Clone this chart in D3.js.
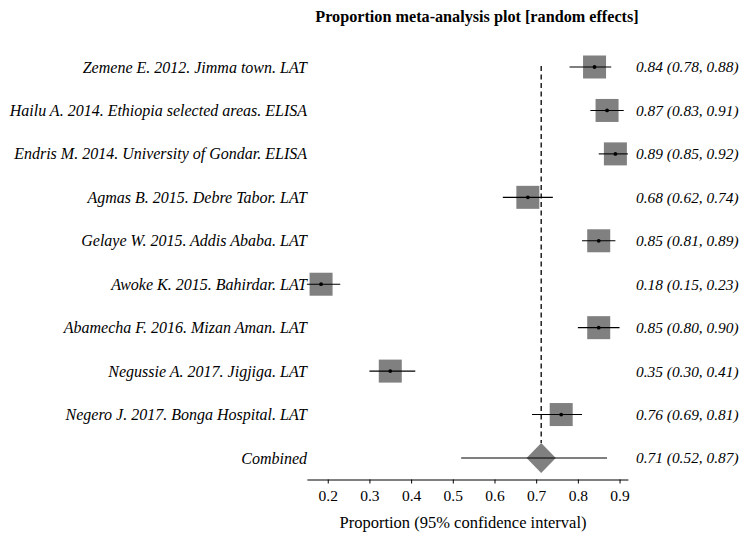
<!DOCTYPE html>
<html>
<head>
<meta charset="utf-8">
<script src="https://cdn.jsdelivr.net/npm/d3@7/dist/d3.min.js"></script>
<style>
  body { margin: 0; background: #fff; }
  svg { display: block; }
</style>
</head>
<body>
<svg id="chart" width="752" height="542"></svg>
<script>
// study rows
const studies = [
  "Zemene E. 2012. Jimma town. LAT",
  "Hailu A. 2014. Ethiopia selected areas. ELISA",
  "Endris M. 2014. University of Gondar. ELISA",
  "Agmas B. 2015. Debre Tabor. LAT",
  "Gelaye W. 2015. Addis Ababa. LAT",
  "Awoke K. 2015. Bahirdar. LAT",
  "Abamecha F. 2016. Mizan Aman. LAT",
  "Negussie A. 2017. Jigjiga. LAT",
  "Negero J. 2017. Bonga Hospital. LAT"
];
const estimates = [0.84, 0.87, 0.89, 0.68, 0.85, 0.184, 0.85, 0.35, 0.76];
const lower     = [0.78, 0.83, 0.85, 0.62, 0.81, 0.15, 0.80, 0.30, 0.69];
const upper     = [0.88, 0.91, 0.92, 0.74, 0.89, 0.23, 0.90, 0.41, 0.81];

// pooled estimate
const pooledLabel = "Combined";
const pooled = [0.712, 0.52, 0.87];

const ticks = [0.2, 0.3, 0.4, 0.5, 0.6, 0.7, 0.8, 0.9];

const FONT = "'Liberation Serif', 'Times New Roman', serif";
const svg = d3.select("#chart").style("font-family", FONT);
const fmt = d3.format(".2f");

const x = d3.scaleLinear().domain([0.15, 0.92]).range([306.9, 627.9]);
const rows = studies.concat([pooledLabel]);
const y = d3.scalePoint().domain(rows).range([67, 458]);

const boxSize = 23;
const grey = "#808080";

// title
svg.append("text")
  .attr("x", 477).attr("y", 22)
  .attr("text-anchor", "middle")
  .style("font-family", FONT)
  .style("font-weight", "bold")
  .style("font-size", "16.2px")
  .text("Proportion meta-analysis plot [random effects]");

// reference line at pooled estimate
svg.append("line")
  .attr("x1", x(pooled[0])).attr("x2", x(pooled[0]))
  .attr("y1", y(studies[0]) - 1).attr("y2", y(pooledLabel) - 15)
  .attr("stroke", "#000").attr("stroke-width", 1.3)
  .attr("stroke-dasharray", "5,3.5");

const g = svg.append("g");

studies.forEach((s, i) => {
  const cy = y(s);
  g.append("rect")
    .attr("x", x(estimates[i]) - boxSize / 2).attr("y", cy - boxSize / 2)
    .attr("width", boxSize).attr("height", boxSize)
    .attr("fill", grey);
  g.append("line")
    .attr("x1", x(lower[i])).attr("x2", x(upper[i]))
    .attr("y1", cy).attr("y2", cy)
    .attr("stroke", "#000").attr("stroke-width", 1.1);
  g.append("circle")
    .attr("cx", x(estimates[i])).attr("cy", cy).attr("r", 1.9)
    .attr("fill", "#000");
  g.append("text")
    .attr("x", 307).attr("y", cy).attr("dy", "0.35em")
    .attr("text-anchor", "end")
    .style("font-family", FONT)
    .style("font-style", "italic").style("font-size", "16px")
    .text(s);
  g.append("text")
    .attr("x", 636).attr("y", cy).attr("dy", "0.35em")
    .style("font-family", FONT)
    .style("font-style", "italic").style("font-size", "15.4px")
    .text(`${fmt(estimates[i])} (${fmt(lower[i])}, ${fmt(upper[i])})`);
});

// combined row
const py = y(pooledLabel);
const px = x(pooled[0]);
g.append("path")
  .attr("d", `M${px - 14.6},${py} L${px},${py - 15} L${px + 14.6},${py} L${px},${py + 15} Z`)
  .attr("fill", grey);
g.append("line")
  .attr("x1", x(pooled[1])).attr("x2", x(pooled[2]))
  .attr("y1", py).attr("y2", py)
  .attr("stroke", "#000").attr("stroke-width", 1.1);
g.append("text")
  .attr("x", 307).attr("y", py).attr("dy", "0.35em")
  .attr("text-anchor", "end")
  .style("font-family", FONT)
  .style("font-style", "italic").style("font-size", "16px")
  .text(pooledLabel);
g.append("text")
  .attr("x", 636).attr("y", py).attr("dy", "0.35em")
  .style("font-family", FONT)
  .style("font-style", "italic").style("font-size", "15.4px")
  .text(`${fmt(pooled[0])} (${fmt(pooled[1])}, ${fmt(pooled[2])})`);

// x axis
const axis = svg.append("g")
  .attr("transform", "translate(0,479.5)")
  .call(d3.axisBottom(x).tickValues(ticks).tickFormat(d3.format(".1f")).tickSize(4).tickSizeOuter(0));
axis.attr("font-family", null).attr("font-size", null);
axis.select(".domain").attr("stroke", "#000");
axis.selectAll(".tick line").attr("stroke", "#000");
axis.selectAll(".tick text")
  .attr("fill", "#000")
  .attr("y", 10)
  .style("font-size", "15.5px")
  .style("font-family", FONT);

svg.append("text")
  .attr("x", 463).attr("y", 528)
  .attr("text-anchor", "middle")
  .style("font-family", FONT)
  .style("font-size", "16.5px")
  .text("Proportion (95% confidence interval)");
</script>
</body>
</html>
